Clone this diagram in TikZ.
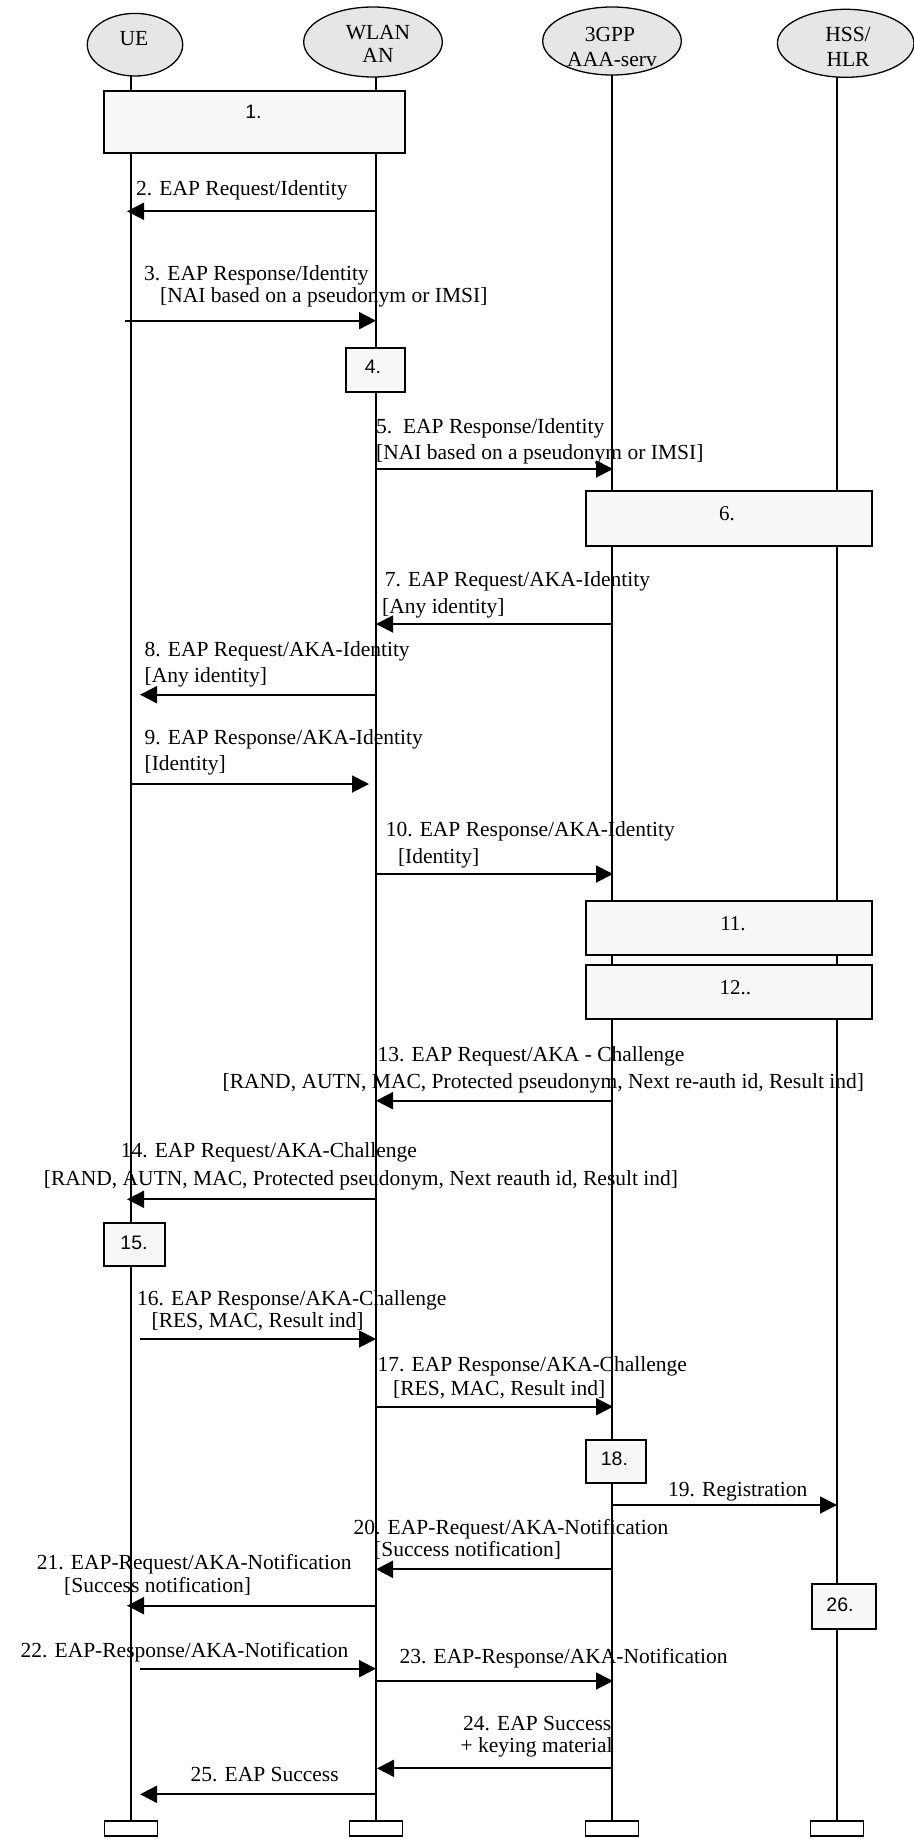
\documentclass[tikz,border=0pt]{standalone}
\usepackage{fontspec}
\setmainfont{Liberation Serif}
\newfontfamily\boxsans{Liberation Sans}
\usetikzlibrary{shapes.geometric,arrows.meta}
\definecolor{ellfill}{HTML}{E6E6E6}
\definecolor{boxfill}{HTML}{F7F7F7}
\tikzset{
  x=1pt,y=-1pt,
  actor/.style={ellipse,draw=black,line width=1.3pt,fill=ellfill,inner sep=0pt},
  acttext/.style={anchor=base,inner sep=0pt,font=\fontsize{21.5}{24}\selectfont},
  lifeline/.style={line width=1.2pt},
  procbox/.style={draw=black,line width=1.8pt,fill=boxfill},
  endbox/.style={draw=black,line width=1.5pt,fill=white,minimum width=53pt,minimum height=15pt,inner sep=0pt},
  msg/.style={line width=1.9pt,-{Triangle[length=17pt,width=17pt]}},
  msgtext/.style={anchor=base west,inner sep=0pt,font=\fontsize{21.5}{24}\selectfont},
  msgtextr/.style={anchor=base east,inner sep=0pt,font=\fontsize{21.5}{24}\selectfont},
  sanslabel/.style={anchor=base,inner sep=0pt,font=\boxsans\fontsize{19.5}{22}\selectfont},
  seriflabel/.style={anchor=base,inner sep=0pt,font=\fontsize{21}{24}\selectfont},
}
\newcommand\msgarrow[4]{%
  \coordinate (#1s) at (#2,#4);
  \coordinate (#1e) at (#3,#4);
  \draw[msg] (#1s) -- (#1e);}
\newcommand\pbox[5]{%
  \node[procbox,anchor=north west,minimum width=#4pt-#2pt,minimum height=#5pt-#3pt,inner sep=0pt] (#1) at (#2,#3) {};}
\begin{document}
\begin{tikzpicture}
\useasboundingbox (0,0) rectangle (913,1839);
% end boxes
\node[endbox,anchor=north] (ueend) at (131,1820) {};
\node[endbox,anchor=north] (wlend) at (376,1820) {};
\node[endbox,anchor=north] (aaaend) at (612,1820) {};
\node[endbox,anchor=north] (hssend) at (837,1820) {};
% lifeline tops
\coordinate (uetop) at (131,60);
\coordinate (wltop) at (376,60);
\coordinate (aaatop) at (612,60);
\coordinate (hsstop) at (837,60);
\draw[lifeline] (uetop) -- (ueend.north);
\draw[lifeline] (wltop) -- (wlend.north);
\draw[lifeline] (aaatop) -- (aaaend.north);
\draw[lifeline] (hsstop) -- (hssend.north);
% actors
\node[actor,minimum width=95.4pt,minimum height=62.6pt] (ue) at (135,44.7) {};
\node[acttext] (uet) at (134,45) {UE};
\node[actor,minimum width=138.6pt,minimum height=70pt] (wl) at (373,42) {};
\node[acttext] (wlt1) at (378,39) {WLAN};
\node[acttext] (wlt2) at (378,62.7) {AN};
\node[actor,minimum width=138.6pt,minimum height=68pt] (aaa) at (612,41) {};
\node[acttext] (aaat1) at (610,41.7) {3GPP};
\node[acttext] (aaat2) at (612,66) {AAA-serv};
\node[actor,minimum width=136.6pt,minimum height=68pt] (hss) at (845.7,43.3) {};
\node[acttext] (hsst1) at (848,41.7) {HSS/};
\node[acttext] (hsst2) at (848,66.7) {HLR};
% process boxes
\pbox{b1}{102.7}{90}{404.3}{152}
\node[sanslabel] (b1t) at (253.5,118) {1.};
\pbox{b4}{345}{346.7}{404}{390.7}
\node[sanslabel] (b4t) at (373,373.3) {4.};
\pbox{b6}{585}{490}{871}{545}
\node[seriflabel] (b6t) at (727,520) {6.};
\pbox{b11}{585.3}{900}{870.7}{954}
\node[seriflabel] (b11t) at (733,930.7) {11.};
\pbox{b12}{585.3}{964}{870.7}{1018.3}
\node[seriflabel] (b12t) at (735.4,994) {12..};
\pbox{b15}{102.7}{1221.7}{164}{1265}
\node[sanslabel] (b15t) at (134,1249) {15.};
\pbox{b18}{585.3}{1439.3}{645.3}{1481.7}
\node[sanslabel] (b18t) at (614.4,1465.7) {18.};
\pbox{b26}{811.3}{1583.3}{874.8}{1628.3}
\node[sanslabel] (b26t) at (840,1611.7) {26.};
% messages
\msgarrow{m2}{376}{127}{211.3}
\node[msgtext] (t2) at (136,195.7) {2. EAP Request/Identity};
\msgarrow{m3}{125}{376}{320.7}
\node[msgtext] (t3a) at (144,280) {3. EAP Response/Identity};
\node[msgtext] (t3b) at (160,302.7) {[NAI based on a pseudonym or IMSI]};
\msgarrow{m5}{376}{613}{469}
\node[msgtext] (t5a) at (376,433.3) {5.\ \ EAP Response/Identity};
\node[msgtext] (t5b) at (376,459.3) {[NAI based on a pseudonym or IMSI]};
\msgarrow{m7}{613}{376}{624}
\node[msgtext] (t7a) at (384.7,586) {7. EAP Request/AKA-Identity};
\node[msgtext] (t7b) at (382,613.3) {[Any identity]};
\msgarrow{m8}{376}{140}{694.7}
\node[msgtext] (t8a) at (144.4,656.7) {8. EAP Request/AKA-Identity};
\node[msgtext] (t8b) at (144.4,682.7) {[Any identity]};
\msgarrow{m9}{131}{369}{784}
\node[msgtext] (t9a) at (144.4,744) {9. EAP Response/AKA-Identity};
\node[msgtext] (t9b) at (144.4,770) {[Identity]};
\msgarrow{m10}{376}{613}{874}
\node[msgtext] (t10a) at (385.6,836) {10. EAP Response/AKA-Identity};
\node[msgtext] (t10b) at (397.8,863.3) {[Identity]};
\msgarrow{m13}{613}{376}{1100.7}
\node[msgtext] (t13a) at (377.4,1061) {13. EAP Request/AKA - Challenge};
\node[msgtext] (t13b) at (222.5,1088.3) {[RAND, AUTN, MAC, Protected pseudonym, Next re-auth id, Result ind]};
\msgarrow{m14}{376}{127}{1199.3}
\node[msgtext] (t14a) at (120.6,1157.3) {14. EAP Request/AKA-Challenge};
\node[msgtext] (t14b) at (43.7,1185) {[RAND, AUTN, MAC, Protected pseudonym, Next reauth id, Result ind]};
\msgarrow{m16}{140}{376}{1339}
\node[msgtext] (t16a) at (136.9,1305) {16. EAP Response/AKA-Challenge};
\node[msgtext] (t16b) at (151.4,1327.7) {[RES, MAC, Result ind]};
\msgarrow{m17}{376}{613}{1406.7}
\node[msgtext] (t17a) at (377.4,1371) {17. EAP Response/AKA-Challenge};
\node[msgtext] (t17b) at (393,1395) {[RES, MAC, Result ind]};
\msgarrow{m19}{613}{837}{1505}
\node[msgtext] (t19) at (668,1496.7) {19. Registration};
\msgarrow{m20}{613}{376}{1569.3}
\node[msgtext] (t20a) at (353.5,1534) {20. EAP-Request/AKA-Notification};
\node[msgtext] (t20b) at (374,1556) {[Success notification]};
\msgarrow{m21}{376}{127}{1605.7}
\node[msgtext] (t21a) at (36.7,1569.3) {21. EAP-Request/AKA-Notification};
\node[msgtext] (t21b) at (64,1592.3) {[Success notification]};
\msgarrow{m22}{140}{376}{1668.7}
\node[msgtext] (t22) at (20.4,1657.3) {22. EAP-Response/AKA-Notification};
\msgarrow{m23}{376}{613}{1681}
\node[msgtext] (t23) at (399.5,1663.3) {23. EAP-Response/AKA-Notification};
\msgarrow{m24}{613}{377}{1768.3}
\node[msgtextr] (t24a) at (611.5,1730.7) {24. EAP Success};
\node[msgtextr] (t24b) at (612.7,1752.7) {+ keying material};
\msgarrow{m25}{376}{140}{1794.3}
\node[msgtext] (t25) at (190.4,1781.7) {25. EAP Success};
\end{tikzpicture}
\end{document}
